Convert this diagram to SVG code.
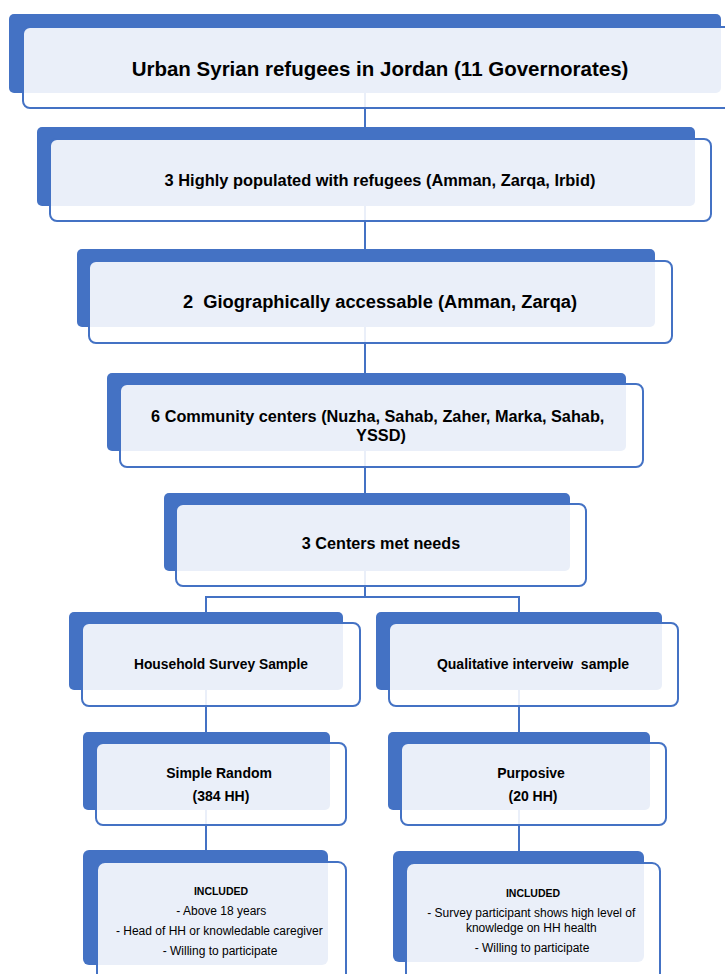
<svg xmlns="http://www.w3.org/2000/svg" width="725" height="974" viewBox="0 0 725 974">
  <style>
    .back { fill: #4472C4; }
    .front { fill: #FFFFFF; fill-opacity: 0.89; stroke: #4472C4; stroke-width: 2; }
    .link { stroke: #4472C4; stroke-width: 2; fill: none; }
    text { font-family: "Liberation Sans", Arial, sans-serif; fill: #000; text-anchor: middle; }
    .b { font-weight: bold; }
  </style>

  <!-- connectors sit underneath the boxes -->
  <g id="connectors">
    <line class="link" x1="365" y1="92" x2="365" y2="128"/>
    <line class="link" x1="365" y1="205" x2="365" y2="250"/>
    <line class="link" x1="365" y1="326" x2="365" y2="374"/>
    <line class="link" x1="365" y1="450" x2="365" y2="494"/>
    <line class="link" x1="365" y1="570" x2="365" y2="597"/>
    <polyline class="link" points="206,613 206,597 519,597 519,613"/>
    <line class="link" x1="206" y1="689" x2="206" y2="733"/>
    <line class="link" x1="519" y1="689" x2="519" y2="733"/>
    <line class="link" x1="206" y1="809" x2="206" y2="851"/>
    <line class="link" x1="519" y1="809" x2="519" y2="852"/>
  </g>

  <g id="governorates">
    <rect class="back" x="9" y="14" width="712" height="79" rx="5"/>
    <rect class="front" x="23" y="27" width="714" height="81" rx="7"/>
    <text class="b" x="380" y="76" font-size="20.5">Urban Syrian refugees in Jordan (11 Governorates)</text>
  </g>

  <g id="highly-populated">
    <rect class="back" x="37" y="127" width="658" height="79" rx="5"/>
    <rect class="front" x="50" y="139" width="661" height="82" rx="7"/>
    <text class="b" x="380" y="186" font-size="16.4">3 Highly populated with refugees (Amman, Zarqa, Irbid)</text>
  </g>

  <g id="accessible">
    <rect class="back" x="77" y="249" width="578" height="78" rx="5"/>
    <rect class="front" x="89" y="261" width="583" height="82" rx="7"/>
    <text class="b" x="380" y="308" font-size="18.3" xml:space="preserve">2  Giographically accessable (Amman, Zarqa)</text>
  </g>

  <g id="community-centers">
    <rect class="back" x="107" y="373" width="519" height="78" rx="5"/>
    <rect class="front" x="120" y="384" width="523" height="83" rx="7"/>
    <text class="b" font-size="16.3">
      <tspan x="380" y="421.5">6 Community centers (Nuzha, Sahab, Zaher, Marka, Sahab,</tspan>
      <tspan x="381" y="441">YSSD)</tspan>
    </text>
  </g>

  <g id="centers-met-needs">
    <rect class="back" x="164" y="493" width="406" height="78" rx="5"/>
    <rect class="front" x="176" y="504" width="410" height="82" rx="7"/>
    <text class="b" x="381" y="549" font-size="16.2">3 Centers met needs</text>
  </g>

  <g id="household-survey">
    <rect class="back" x="69" y="612" width="274" height="78" rx="5"/>
    <rect class="front" x="82" y="623" width="278" height="83" rx="7"/>
    <text class="b" x="221" y="669" font-size="13.8">Household Survey Sample</text>
  </g>

  <g id="qualitative-interview">
    <rect class="back" x="376" y="612" width="286" height="78" rx="5"/>
    <rect class="front" x="389" y="623" width="289" height="83" rx="7"/>
    <text class="b" x="533" y="669" font-size="14" xml:space="preserve">Qualitative interveiw  sample</text>
  </g>

  <g id="simple-random">
    <rect class="back" x="83" y="732" width="247" height="78" rx="5"/>
    <rect class="front" x="96" y="743" width="250" height="82" rx="7"/>
    <text class="b" font-size="14">
      <tspan x="221" y="777.5">Simple Random</tspan>
      <tspan x="221" y="801">(384 HH)</tspan>
    </text>
  </g>

  <g id="purposive">
    <rect class="back" x="388" y="732" width="262" height="78" rx="5"/>
    <rect class="front" x="401" y="743" width="265" height="82" rx="7"/>
    <text class="b" font-size="14">
      <tspan x="533" y="777.5">Purposive</tspan>
      <tspan x="533" y="801">(20 HH)</tspan>
    </text>
  </g>

  <g id="included-survey">
    <rect class="back" x="83" y="850" width="245" height="115" rx="6"/>
    <rect class="front" x="97" y="862" width="249" height="122" rx="8"/>
    <text class="b" x="221" y="895" font-size="10.5">INCLUDED</text>
    <text font-size="12">
      <tspan x="223" y="915">- Above 18 years</tspan>
      <tspan x="221" y="935">- Head of HH or knowledable caregiver</tspan>
      <tspan x="220" y="955">- Willing to participate</tspan>
    </text>
  </g>

  <g id="included-interview">
    <rect class="back" x="393" y="851" width="251" height="111" rx="6"/>
    <rect class="front" x="406" y="863" width="254" height="122" rx="8"/>
    <text class="b" x="533" y="897" font-size="10.5">INCLUDED</text>
    <text font-size="12">
      <tspan x="533" y="917">- Survey participant shows high level of</tspan>
      <tspan x="533" y="932">knowledge on HH health</tspan>
      <tspan x="532" y="952">- Willing to participate</tspan>
    </text>
  </g>
</svg>
